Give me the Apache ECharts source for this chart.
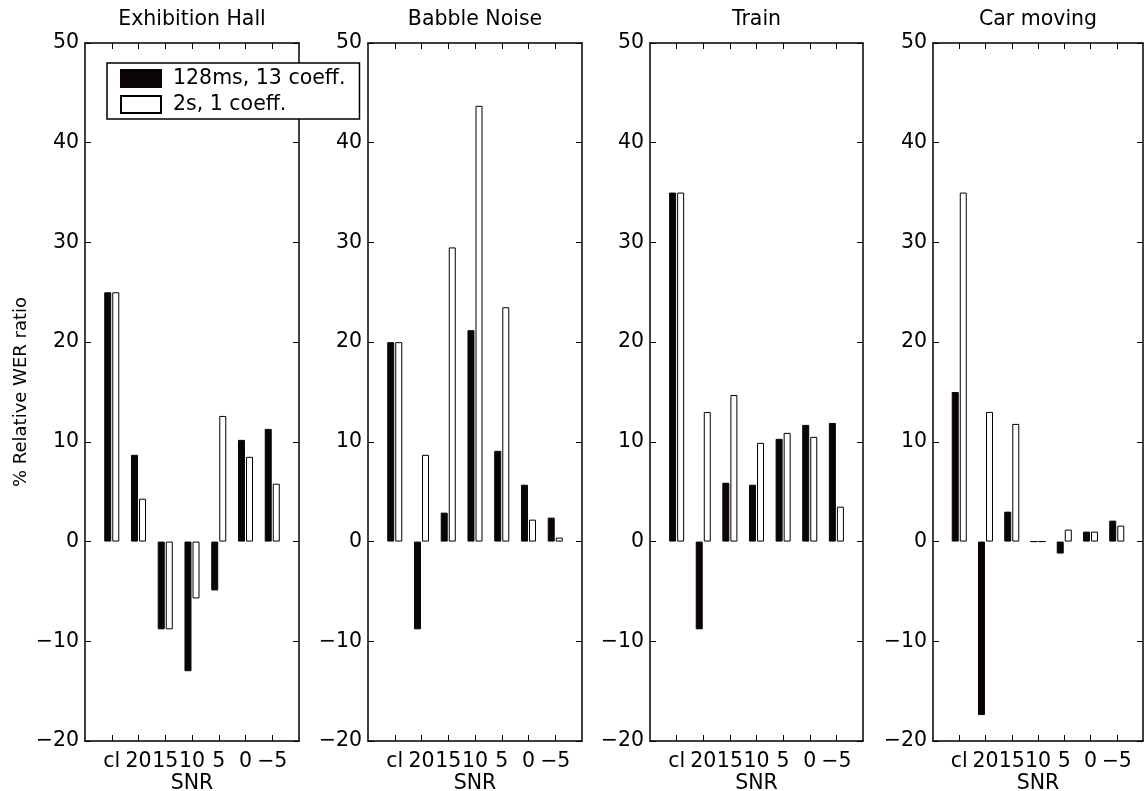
<!DOCTYPE html>
<html>
<head>
<meta charset="utf-8">
<script src="https://cdn.jsdelivr.net/npm/echarts@6/dist/echarts.min.js"></script>
<style>
html,body{margin:0;padding:0;background:#fff;}
#chart{width:1144px;height:791px;}
</style>
</head>
<body>
<div id="chart"></div>
<script>
const snrLabels = ['cl', '20', '15', '10', '5', '0', '\u22125'];
const panelTitles = ['Exhibition Hall', 'Babble Noise', 'Train', 'Car moving'];
const seriesNames = ['128ms, 13 coeff.', '2s, 1 coeff.'];
const yTicks = [-20, -10, 0, 10, 20, 30, 40, 50];

const hall128 = [25, 8.7, -8.8, -13.0, -4.9, 10.2, 11.3];
const hall2s = [25, 4.3, -8.8, -5.7, 12.6, 8.5, 5.8];
const babble128 = [20, -8.8, 2.9, 21.2, 9.1, 5.7, 2.4];
const babble2s = [20, 8.7, 29.5, 43.7, 23.5, 2.2, 0.4];
const train128 = [35, -8.8, 5.9, 5.7, 10.3, 11.7, 11.9];
const train2s = [35, 13.0, 14.7, 9.9, 10.9, 10.5, 3.5];
const car128 = [15.0, -17.4, 3.0, 0, -1.2, 1.0, 2.1];
const car2s = [35.0, 13.0, 11.8, 0, 1.2, 1.0, 1.6];

const panels = [
  [hall128, hall2s],
  [babble128, babble2s],
  [train128, train2s],
  [car128, car2s]
];

const gridBoxes = [
  { left: 85, width: 214 },
  { left: 368, width: 214 },
  { left: 650, width: 213 },
  { left: 933, width: 210 }
];
const GRID_TOP = 43, GRID_H = 698;
const FONT = 'DejaVu Sans';
const FS = 20.5;
const INK = '#0a0404';
const axisCats = [''].concat(snrLabels, ['']);
const pad = arr => [null].concat(arr, [null]);
const yFmt = v => (v < 0 ? '\u2212' + Math.abs(v) : String(v));
const tickInterval = (idx) => idx > 0 && idx < axisCats.length - 1;

const grid = [], xAxis = [], yAxis = [], series = [], title = [];
panels.forEach((p, i) => {
  const g = gridBoxes[i];
  grid.push({ left: g.left, width: g.width, top: GRID_TOP, height: GRID_H, containLabel: false, outerBoundsMode: 'none' });
  title.push({
    text: panelTitles[i], left: g.left + g.width / 2, top: 8, textAlign: 'center', padding: 0,
    textStyle: { fontFamily: FONT, fontSize: FS, fontWeight: 'normal', color: '#000', lineHeight: 24 }
  });
  xAxis.push({
    type: 'category', gridIndex: i, data: axisCats, boundaryGap: false, position: 'bottom',
    axisLine: { show: true, onZero: false, lineStyle: { color: '#000', width: 1.5 } },
    axisTick: { show: true, inside: true, length: 6, interval: tickInterval, lineStyle: { color: '#000', width: 1 } },
    axisLabel: { interval: 0, margin: 10, color: '#000', fontFamily: FONT, fontSize: FS },
    splitLine: { show: false },
    name: 'SNR', nameLocation: 'middle', nameGap: 32, nameMoveOverlap: false,
    nameTextStyle: { fontFamily: FONT, fontSize: FS, color: '#000' }
  });
  xAxis.push({
    type: 'category', gridIndex: i, data: axisCats, boundaryGap: false, position: 'top',
    axisLine: { show: true, onZero: false, lineStyle: { color: '#000', width: 1.5 } },
    axisTick: { show: true, inside: true, length: 6, interval: tickInterval, lineStyle: { color: '#000', width: 1 } },
    axisLabel: { show: false }, splitLine: { show: false }
  });
  const yBase = {
    type: 'value', gridIndex: i, min: -20, max: 50, interval: 10,
    axisLine: { show: true, onZero: false, lineStyle: { color: '#000', width: 1.5 } },
    axisTick: { show: true, inside: true, length: 6, lineStyle: { color: '#000', width: 1 } },
    splitLine: { show: false }
  };
  yAxis.push(Object.assign({}, yBase, {
    position: 'left',
    axisLabel: { show: true, margin: 6, color: '#000', fontFamily: FONT, fontSize: FS, formatter: yFmt },
    name: i === 0 ? '% Relative WER ratio' : '', nameLocation: 'middle', nameGap: 55, nameRotate: 90,
    nameMoveOverlap: false,
    nameTextStyle: { fontFamily: FONT, fontSize: 18, color: '#000' }
  }));
  yAxis.push(Object.assign({}, yBase, { position: 'right', axisLabel: { show: false } }));
  p.forEach((vals, s) => {
    series.push({
      name: seriesNames[s], type: 'bar', xAxisIndex: 2 * i, yAxisIndex: 2 * i,
      data: pad(vals), barWidth: 7, barGap: '15%',
      itemStyle: s === 0
        ? { color: INK, borderColor: INK, borderWidth: 1 }
        : { color: '#ffffff', borderColor: '#000', borderWidth: 1 },
      emphasis: { disabled: true }, animation: false
    });
  });
});

const chart = echarts.init(document.getElementById('chart'), null, { renderer: 'canvas' });
chart.setOption({
  backgroundColor: '#fff',
  animation: false,
  title,
  legend: {
    data: seriesNames, orient: 'vertical', left: 107, top: 63,
    itemWidth: 40, itemHeight: 17, itemGap: 5,
    padding: [5, 14, 4, 13], borderColor: '#000', borderWidth: 1.5, backgroundColor: '#fff',
    icon: 'rect',
    textStyle: { fontFamily: FONT, fontSize: FS, color: '#000', padding: [0, 0, 0, 7] },
    selectedMode: false
  },
  grid, xAxis, yAxis, series
});
</script>
</body>
</html>
